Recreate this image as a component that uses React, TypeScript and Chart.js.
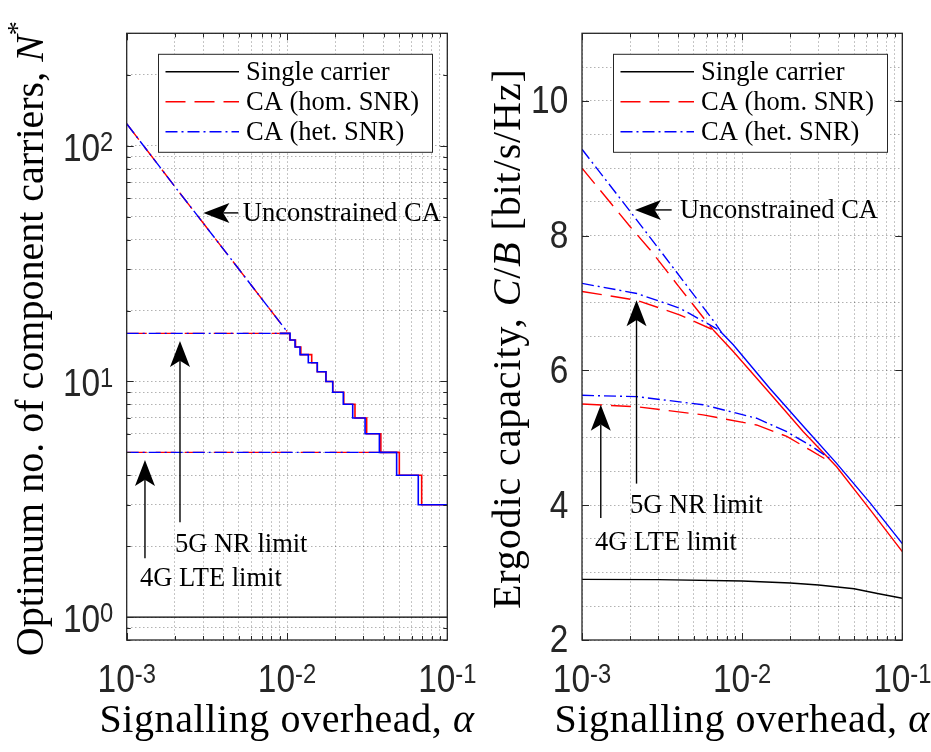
import React, { useEffect, useRef } from 'react';
import { Chart, registerables } from 'chart.js';

Chart.register(...registerables);

// ---------------- shared axis values ----------------
const ALPHA_MIN = 1e-3;
const ALPHA_MAX = 1e-1;
const ALPHA_GRID = [0.001, 0.002, 0.003, 0.004, 0.005, 0.006, 0.007, 0.008, 0.009,
  0.01, 0.02, 0.03, 0.04, 0.05, 0.06, 0.07, 0.08, 0.09, 0.1];
const ALPHA_MAJOR = [0.001, 0.01, 0.1];
const ALPHA_MAJOR_EXP = ['-3', '-2', '-1'];

// ---------------- left panel: optimum number of carriers ----------------
const N_MIN = 0.8;
const N_MAX = 300;
const N_GRID = [0.8, 0.9, 1, 2, 3, 4, 5, 6, 7, 8, 9, 10, 20, 30, 40, 50, 60, 70, 80, 90, 100, 200, 300];
const N_MAJOR = [1, 10, 100];
const N_MAJOR_EXP = ['0', '1', '2'];

const SINGLE_N_ALPHA = [0.001, 0.1];
const SINGLE_N = [1, 1];

const UNCON_N_ALPHA = [0.001, 0.002, 0.003, 0.005, 0.007, 0.01];
const UNCON_N_HOM = [124, 67, 47, 30, 22.3, 16.3];
const UNCON_N_HET = [124, 67, 47, 30, 22.3, 16.3];

const LIMIT_5G = 16;
const LIMIT_4G = 5;

const STAIR_N = [16, 15, 14, 13, 12, 11, 10, 9, 8, 7, 6, 5, 4, 3];
const STAIR_START_ALPHA = 0.009;
const STAIR_END_HOM = [0.0104, 0.0113, 0.0122, 0.01426, 0.01545, 0.0175, 0.0193, 0.0226, 0.02655, 0.0314, 0.0385, 0.0502, 0.0692, 0.1];
const STAIR_END_HET = [0.01045, 0.01122, 0.01205, 0.01358, 0.01545, 0.0175, 0.01928, 0.02245, 0.0257, 0.0307, 0.0377, 0.0483, 0.0659, 0.1];

// ---------------- right panel: ergodic capacity ----------------
const C_MIN = 2;
const C_MAX = 11;
const C_GRID = [2, 2.5, 3, 3.5, 4, 4.5, 5, 5.5, 6, 6.5, 7, 7.5, 8, 8.5, 9, 9.5, 10, 10.5, 11];
const C_MAJOR = [2, 4, 6, 8, 10];
const C_MAJOR_LABELS = ['2', '4', '6', '8', '10'];

const SINGLE_C_ALPHA = [0.001, 0.003, 0.01, 0.02, 0.03, 0.05, 0.07, 0.1];
const SINGLE_C = [2.9, 2.895, 2.875, 2.845, 2.815, 2.76, 2.69, 2.62];

const UNCON_C_HOM_ALPHA = [0.001, 0.002, 0.00266, 0.004, 0.006, 0.0066];
const UNCON_C_HOM = [9.0, 8.13, 7.79, 7.25, 6.72, 6.6];
const NR_C_HOM_ALPHA = [0.001, 0.0022, 0.0041, 0.0066];
const NR_C_HOM = [7.17, 7.04, 6.82, 6.6];
const LTE_C_HOM_ALPHA = [0.001, 0.0022, 0.0057, 0.0123, 0.019, 0.0265, 0.0355];
const LTE_C_HOM = [5.5, 5.46, 5.34, 5.19, 5.02, 4.82, 4.64];
const MERGED_C_HOM_ALPHA = [0.0066, 0.0088, 0.0149, 0.0241, 0.0389, 0.0631, 0.1];
const MERGED_C_HOM = [6.6, 6.28, 5.66, 5.09, 4.57, 3.93, 3.31];

const UNCON_C_HET_ALPHA = [0.001, 0.00204, 0.00307, 0.0066, 0.0075];
const UNCON_C_HET = [9.28, 8.33, 7.78, 6.74, 6.55];
const NR_C_HET_ALPHA = [0.001, 0.0022, 0.0041, 0.0069, 0.0075];
const NR_C_HET = [7.29, 7.14, 6.92, 6.62, 6.55];
const LTE_C_HET_ALPHA = [0.001, 0.0022, 0.0057, 0.0123, 0.019, 0.0265, 0.036];
const LTE_C_HET = [5.63, 5.61, 5.49, 5.29, 5.09, 4.89, 4.68];
const MERGED_C_HET_ALPHA = [0.0075, 0.0088, 0.0149, 0.0241, 0.0389, 0.0631, 0.1];
const MERGED_C_HET = [6.55, 6.38, 5.73, 5.17, 4.62, 4.03, 3.43];

// ---------------- style ----------------
const RED = '#ff0000';
const BLUE = '#0000ff';
const BLACK = '#000000';
const AXIS_COLOR = '#262626';
const HOM_DASH = [20, 9];
const HET_DASH = [12, 4, 2, 4];
const SERIF = '"Liberation Serif", "Times New Roman", serif';
const SANS = '"Liberation Sans", Arial, sans-serif';
const TICK_SIZE = 38;
const EXP_SIZE = 27;
const TICK_SX = 0.88;
const TITLE_SIZE = 40;
const NOTE_SIZE = 26.5;

type Seg = { t: string; it?: boolean; sup?: boolean };
type Pt = { x: number; y: number };

const zip = (xs: number[], ys: number[]): Pt[] => xs.map((x, i) => ({ x, y: ys[i] }));

function stairs(start: number, ends: number[], levels: number[]): Pt[] {
  const pts: Pt[] = [];
  let prev = start;
  levels.forEach((n, i) => {
    pts.push({ x: prev, y: n });
    pts.push({ x: ends[i], y: n });
    prev = ends[i];
  });
  return pts;
}

function ds(points: Pt[], color: string, dash: number[], width = 1.4) {
  return {
    data: points,
    borderColor: color,
    backgroundColor: color,
    borderWidth: width,
    borderDash: dash,
    borderCapStyle: 'butt',
    borderJoinStyle: 'miter',
    pointRadius: 0,
    pointHoverRadius: 0,
    fill: false,
    tension: 0,
  };
}

function drawRich(ctx: CanvasRenderingContext2D, segs: Seg[], size: number, cx: number, cy: number, rot: number, spacing: number) {
  const anyCtx = ctx as any;
  const font = (s: Seg) => `${s.it ? 'italic ' : ''}${s.sup ? Math.round(size * 0.7) : size}px ${SERIF}`;
  ctx.save();
  anyCtx.letterSpacing = `${spacing}px`;
  const ws = segs.map((s) => { ctx.font = font(s); return ctx.measureText(s.t).width; });
  const total = ws.reduce((a, b) => a + b, 0);
  ctx.translate(cx, cy);
  ctx.rotate(rot);
  ctx.textAlign = 'left';
  ctx.textBaseline = 'alphabetic';
  ctx.fillStyle = '#000';
  let x = -total / 2;
  segs.forEach((s, i) => {
    ctx.font = font(s);
    ctx.fillText(s.t, x, s.sup ? -size * 0.42 : 0);
    x += ws[i];
  });
  anyCtx.letterSpacing = '0px';
  ctx.restore();
}

function drawPow(ctx: CanvasRenderingContext2D, exp: string, x: number, yMid: number, align: 'center' | 'right') {
  const baseFont = `${TICK_SIZE}px ${SANS}`;
  const expFont = `${EXP_SIZE}px ${SANS}`;
  ctx.font = baseFont;
  const wb = ctx.measureText('10').width;
  ctx.font = expFont;
  const we = ctx.measureText(exp).width;
  const total = (wb + we) * TICK_SX;
  const left = align === 'center' ? x - total / 2 : x - total;
  ctx.save();
  ctx.translate(left, yMid);
  ctx.scale(TICK_SX, 1);
  ctx.fillStyle = '#262626';
  ctx.textAlign = 'left';
  ctx.textBaseline = 'middle';
  ctx.font = baseFont;
  ctx.fillText('10', 0, 0);
  ctx.textBaseline = 'alphabetic';
  ctx.font = expFont;
  ctx.fillText(exp, wb, 1);
  ctx.restore();
}

function drawPlain(ctx: CanvasRenderingContext2D, txt: string, x: number, yMid: number) {
  ctx.save();
  ctx.font = `${TICK_SIZE}px ${SANS}`;
  const w = ctx.measureText(txt).width * TICK_SX;
  ctx.translate(x - w, yMid);
  ctx.scale(TICK_SX, 1);
  ctx.fillStyle = '#262626';
  ctx.textAlign = 'left';
  ctx.textBaseline = 'middle';
  ctx.fillText(txt, 0, 0);
  ctx.restore();
}

function drawArrow(ctx: CanvasRenderingContext2D, x1: number, y1: number, x2: number, y2: number) {
  const L = 26, H = 10, notch = 0.76;
  const ang = Math.atan2(y2 - y1, x2 - x1);
  const ux = Math.cos(ang), uy = Math.sin(ang);
  const px = -uy, py = ux;
  ctx.save();
  ctx.strokeStyle = '#000';
  ctx.lineWidth = 1.4;
  ctx.setLineDash([]);
  ctx.beginPath();
  ctx.moveTo(x1, y1);
  ctx.lineTo(x2 - ux * L * notch, y2 - uy * L * notch);
  ctx.stroke();
  ctx.beginPath();
  ctx.moveTo(x2, y2);
  ctx.lineTo(x2 - ux * L + px * H, y2 - uy * L + py * H);
  ctx.lineTo(x2 - ux * L * notch, y2 - uy * L * notch);
  ctx.lineTo(x2 - ux * L - px * H, y2 - uy * L - py * H);
  ctx.closePath();
  ctx.fillStyle = '#000';
  ctx.fill();
  ctx.restore();
}

type Deco = {
  yMajor: number[];
  yMinor: number[];
  yLabels: string[];
  yPow: boolean;
  yLabelDy: number;
  xTitle: Seg[];
  yTitle: Seg[];
  yTitleX: number;
  yTitleSpacing: number;
  arrows: { tail: [number, number]; tip: [number, number] }[];
  notes: { at: [number, number]; text: string }[];
};

const LEGEND_ITEMS = [
  { label: 'Single carrier', color: BLACK, dash: [] as number[] },
  { label: 'CA (hom. SNR)', color: RED, dash: HOM_DASH },
  { label: 'CA (het. SNR)', color: BLUE, dash: HET_DASH },
];

function decoPlugin(d: Deco) {
  return {
    id: 'matlabDeco',
    afterDraw(chart: any) {
      const ctx: CanvasRenderingContext2D = chart.ctx;
      const ca = chart.chartArea;
      const xs = chart.scales.x;
      const ys = chart.scales.y;
      ctx.save();

      // legend
      const lw = 274, lh = 98;
      const lx = ca.right - 15.3 - lw;
      const ly = ca.top + 20.5;
      ctx.fillStyle = '#fff';
      ctx.fillRect(lx, ly, lw, lh);
      ctx.strokeStyle = AXIS_COLOR;
      ctx.lineWidth = 1;
      ctx.setLineDash([]);
      ctx.strokeRect(lx + 0.5, ly + 0.5, lw, lh);
      LEGEND_ITEMS.forEach((it, i) => {
        const yy = ly + 18 + i * 30;
        ctx.save();
        ctx.strokeStyle = it.color;
        ctx.lineWidth = 1.4;
        ctx.setLineDash(it.dash);
        ctx.beginPath();
        ctx.moveTo(lx + 7.5, yy);
        ctx.lineTo(lx + 81, yy);
        ctx.stroke();
        ctx.restore();
        ctx.fillStyle = '#000';
        ctx.font = `${NOTE_SIZE}px ${SERIF}`;
        ctx.textAlign = 'left';
        ctx.textBaseline = 'middle';
        ctx.fillText(it.label, lx + 88, yy + 1);
      });

      // axes box
      ctx.strokeStyle = AXIS_COLOR;
      ctx.lineWidth = 1.3;
      ctx.setLineDash([]);
      ctx.strokeRect(ca.left, ca.top, ca.right - ca.left, ca.bottom - ca.top);

      // tick marks (inward, all four sides)
      ctx.lineWidth = 1;
      ctx.beginPath();
      ALPHA_GRID.forEach((v) => {
        const major = ALPHA_MAJOR.includes(v);
        const len = major ? 7 : 4;
        const px = Math.round(xs.getPixelForValue(v)) + 0.5;
        ctx.moveTo(px, ca.bottom); ctx.lineTo(px, ca.bottom - len);
        ctx.moveTo(px, ca.top); ctx.lineTo(px, ca.top + len);
      });
      [...d.yMajor.map((v) => [v, 7]), ...d.yMinor.map((v) => [v, 4])].forEach(([v, len]) => {
        const py = Math.round(ys.getPixelForValue(v)) + 0.5;
        ctx.moveTo(ca.left, py); ctx.lineTo(ca.left + len, py);
        ctx.moveTo(ca.right, py); ctx.lineTo(ca.right - len, py);
      });
      ctx.stroke();

      // tick labels
      ALPHA_MAJOR.forEach((v, i) => {
        drawPow(ctx, ALPHA_MAJOR_EXP[i], xs.getPixelForValue(v), ca.bottom + 42, 'center');
      });
      d.yMajor.forEach((v, i) => {
        const py = ys.getPixelForValue(v) + d.yLabelDy;
        if (d.yPow) drawPow(ctx, d.yLabels[i], ca.left - 13.4, py, 'right');
        else drawPlain(ctx, d.yLabels[i], ca.left - 13.7, py);
      });

      // axis titles
      drawRich(ctx, d.xTitle, TITLE_SIZE, (ca.left + ca.right) / 2, 732, 0, 0.6);
      drawRich(ctx, d.yTitle, TITLE_SIZE, d.yTitleX, (ca.top + ca.bottom) / 2 + 2, -Math.PI / 2, d.yTitleSpacing);

      // annotations
      d.arrows.forEach((a) => {
        drawArrow(ctx,
          xs.getPixelForValue(a.tail[0]), ys.getPixelForValue(a.tail[1]),
          xs.getPixelForValue(a.tip[0]), ys.getPixelForValue(a.tip[1]));
      });
      d.notes.forEach((n) => {
        ctx.fillStyle = '#000';
        ctx.font = `${NOTE_SIZE}px ${SERIF}`;
        ctx.textAlign = 'left';
        ctx.textBaseline = 'middle';
        ctx.fillText(n.text, xs.getPixelForValue(n.at[0]), ys.getPixelForValue(n.at[1]) + 1);
      });

      ctx.restore();
    },
  };
}

const gridOpts = { color: 'rgba(0,0,0,0.3)', lineWidth: 1, drawTicks: false };
const borderOpts = { display: false, dash: [1.5, 2.5] };

function baseOptions(yScale: any, xHeight: number, yWidth: number, padRight: number) {
  return {
    responsive: false,
    maintainAspectRatio: false,
    animation: false,
    devicePixelRatio: 1,
    events: [],
    layout: { padding: { left: 0, top: 33.3, right: padRight, bottom: 0 } },
    plugins: { legend: { display: false }, tooltip: { enabled: false }, title: { display: false } },
    scales: {
      x: {
        type: 'logarithmic',
        position: 'bottom',
        min: ALPHA_MIN,
        max: ALPHA_MAX,
        grid: gridOpts,
        border: borderOpts,
        ticks: { display: false, autoSkip: false },
        afterBuildTicks: (s: any) => { s.ticks = ALPHA_GRID.map((v) => ({ value: v })); },
        afterFit: (s: any) => { s.height = xHeight; },
      },
      y: {
        ...yScale,
        position: 'left',
        grid: gridOpts,
        border: borderOpts,
        ticks: { display: false, autoSkip: false },
        afterFit: (s: any) => { s.width = yWidth; },
      },
    },
  };
}

const LEFT_W = 480;
const RIGHT_X = 480;
const RIGHT_W = 931 - RIGHT_X;

function leftConfig(): any {
  const hetStairs = stairs(STAIR_START_ALPHA, STAIR_END_HET, STAIR_N);
  const homStairs = stairs(STAIR_START_ALPHA, STAIR_END_HOM, STAIR_N);
  const het5 = STAIR_END_HET[STAIR_N.indexOf(6)];
  const hom5 = STAIR_END_HOM[STAIR_N.indexOf(6)];
  return {
    type: 'line',
    data: {
      datasets: [
        ds(zip(SINGLE_N_ALPHA, SINGLE_N), BLACK, []),
        ds(hetStairs, BLUE, [], 1.6),
        ds(zip(UNCON_N_ALPHA, UNCON_N_HET), BLUE, HET_DASH),
        ds([{ x: ALPHA_MIN, y: LIMIT_5G }, { x: STAIR_START_ALPHA, y: LIMIT_5G }], BLUE, HET_DASH),
        ds([{ x: ALPHA_MIN, y: LIMIT_4G }, { x: het5, y: LIMIT_4G }], BLUE, HET_DASH),
        ds(homStairs, RED, [], 1.6),
        ds(zip(UNCON_N_ALPHA, UNCON_N_HOM), RED, HOM_DASH),
        ds([{ x: ALPHA_MIN, y: LIMIT_5G }, { x: STAIR_START_ALPHA, y: LIMIT_5G }], RED, HOM_DASH),
        ds([{ x: ALPHA_MIN, y: LIMIT_4G }, { x: hom5, y: LIMIT_4G }], RED, HOM_DASH),
      ],
    },
    options: baseOptions({
      type: 'logarithmic',
      min: N_MIN,
      max: N_MAX,
      afterBuildTicks: (s: any) => { s.ticks = N_GRID.map((v) => ({ value: v })); },
    }, 112, 126.7, LEFT_W - 447.3),
    plugins: [decoPlugin({
      yMajor: N_MAJOR,
      yMinor: N_GRID.filter((v) => !N_MAJOR.includes(v)),
      yLabels: N_MAJOR_EXP,
      yPow: true,
      yLabelDy: 4.3,
      xTitle: [{ t: 'Signalling overhead, ' }, { t: 'α', it: true }],
      yTitle: [{ t: 'Optimum no. of component carriers, ' }, { t: 'N', it: true }, { t: '*', sup: true }],
      yTitleX: 43,
      yTitleSpacing: 0,
      arrows: [
        { tail: [4.97e-3, 51.9], tip: [3.01e-3, 51.9] },
        { tail: [2.15e-3, 2.53], tip: [2.15e-3, 14.85] },
        { tail: [1.3e-3, 1.78], tip: [1.3e-3, 4.64] },
      ],
      notes: [
        { at: [5.3e-3, 51.9], text: 'Unconstrained CA' },
        { at: [2.0e-3, 2.04], text: '5G NR limit' },
        { at: [1.21e-3, 1.47], text: '4G LTE limit' },
      ],
    })],
  };
}

function rightConfig(): any {
  return {
    type: 'line',
    data: {
      datasets: [
        ds(zip(SINGLE_C_ALPHA, SINGLE_C), BLACK, []),
        ds(zip(MERGED_C_HET_ALPHA, MERGED_C_HET), BLUE, []),
        ds(zip(UNCON_C_HET_ALPHA, UNCON_C_HET), BLUE, HET_DASH),
        ds(zip(NR_C_HET_ALPHA, NR_C_HET), BLUE, HET_DASH),
        ds(zip(LTE_C_HET_ALPHA, LTE_C_HET), BLUE, HET_DASH),
        ds(zip(MERGED_C_HOM_ALPHA, MERGED_C_HOM), RED, []),
        ds(zip(UNCON_C_HOM_ALPHA, UNCON_C_HOM), RED, HOM_DASH),
        ds(zip(NR_C_HOM_ALPHA, NR_C_HOM), RED, HOM_DASH),
        ds(zip(LTE_C_HOM_ALPHA, LTE_C_HOM), RED, HOM_DASH),
      ],
    },
    options: baseOptions({
      type: 'linear',
      min: C_MIN,
      max: C_MAX,
      afterBuildTicks: (s: any) => { s.ticks = C_GRID.map((v) => ({ value: v })); },
    }, 112, 582 - RIGHT_X, RIGHT_W - (902.3 - RIGHT_X)),
    plugins: [decoPlugin({
      yMajor: C_MAJOR,
      yMinor: [],
      yLabels: C_MAJOR_LABELS,
      yPow: false,
      yLabelDy: 2,
      xTitle: [{ t: 'Signalling overhead, ' }, { t: 'α', it: true }],
      yTitle: [{ t: 'Ergodic capacity, ' }, { t: 'C', it: true }, { t: '/' }, { t: 'B', it: true }, { t: ' [bit/s/Hz]' }],
      yTitleX: 520 - RIGHT_X,
      yTitleSpacing: 0.9,
      arrows: [
        { tail: [3.63e-3, 8.38], tip: [2.14e-3, 8.38] },
        { tail: [2.19e-3, 4.32], tip: [2.19e-3, 7.04] },
        { tail: [1.31e-3, 3.81], tip: [1.31e-3, 5.49] },
      ],
      notes: [
        { at: [4.09e-3, 8.38], text: 'Unconstrained CA' },
        { at: [1.995e-3, 4.0], text: '5G NR limit' },
        { at: [1.206e-3, 3.46], text: '4G LTE limit' },
      ],
    })],
  };
}

export default function App() {
  const lRef = useRef<HTMLCanvasElement>(null);
  const rRef = useRef<HTMLCanvasElement>(null);
  useEffect(() => {
    const c1 = new Chart(lRef.current as HTMLCanvasElement, leftConfig());
    const c2 = new Chart(rRef.current as HTMLCanvasElement, rightConfig());
    return () => { c1.destroy(); c2.destroy(); };
  }, []);
  return (
    <div style={{ position: 'absolute', left: 0, top: 0, width: 931, height: 752, background: '#fff', overflow: 'hidden' }}>
      <canvas ref={lRef} width={LEFT_W} height={752} style={{ position: 'absolute', left: 0, top: 0, width: LEFT_W, height: 752 }} />
      <canvas ref={rRef} width={RIGHT_W} height={752} style={{ position: 'absolute', left: RIGHT_X, top: 0, width: RIGHT_W, height: 752 }} />
    </div>
  );
}
